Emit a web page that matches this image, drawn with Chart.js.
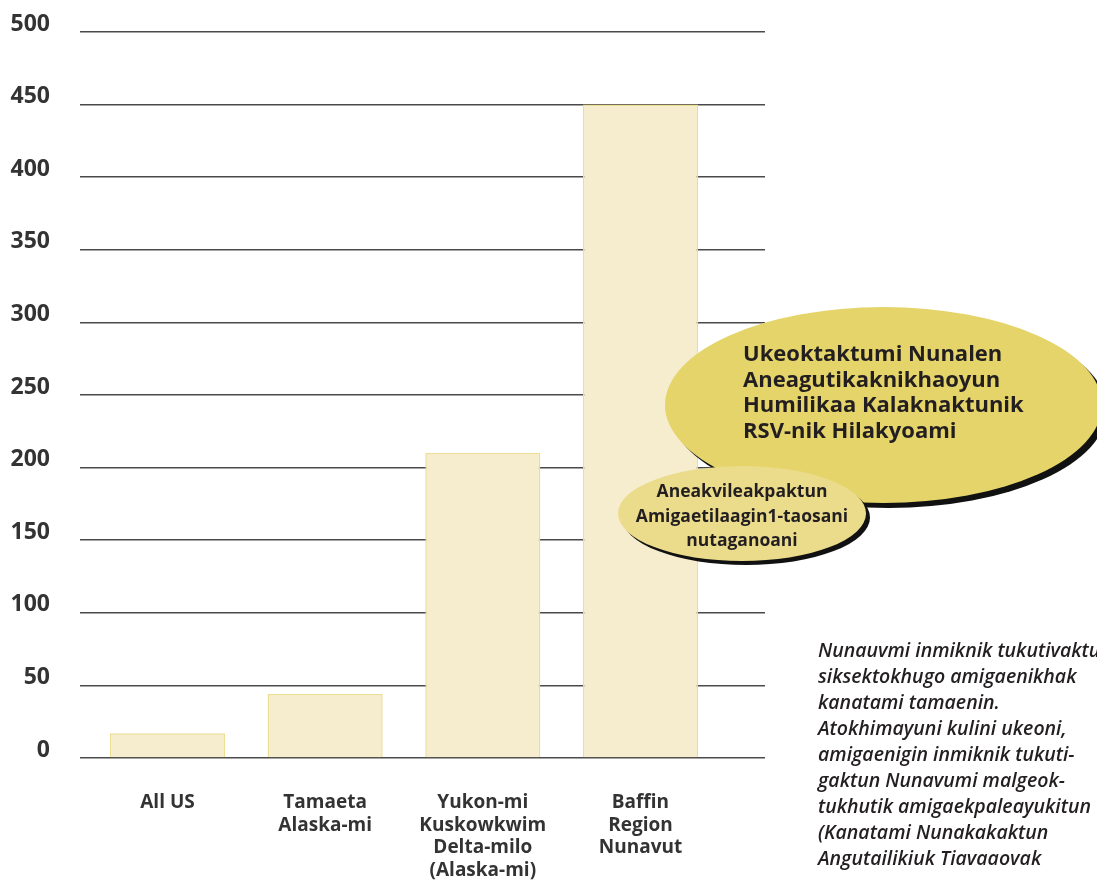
<!DOCTYPE html>
<html lang="en">
<head>
    <meta charset="UTF-8">
    <title>RSV chart</title>
    <script src="https://cdn.jsdelivr.net/npm/chart.js"></script>
    <style>
        body { margin: 0; background: #fff; overflow: hidden; }
        #wrap { position: relative; width: 1097px; height: 880px; overflow: hidden; }
        .blob { position: absolute; border-radius: 50%; color: #231f20; font-family: "Open Sans", sans-serif; font-weight: 700; }
        #big { left: 665px; top: 307px; width: 437px; height: 196px; background: #e5d46a; box-shadow: 5px 5px 0 #111; }
        #big div { position: absolute; left: 78px; top: 33px; font-size: 22px; line-height: 25.5px; white-space: nowrap; }
        #small { left: 618px; top: 466px; width: 248px; height: 95px; background: #ebdc8c; box-shadow: 4px 4px 0 #111; }
        #small div { position: absolute; left: 0; right: 0; top: 12px; text-align: center; font-size: 17.5px; line-height: 24.5px; white-space: nowrap; }
        #note { position: absolute; left: 818px; top: 637px; width: 300px; font-family: "Open Sans", sans-serif; font-style: italic; font-weight: 600; font-size: 19.5px; line-height: 26px; color: #231f20; white-space: nowrap; }
    </style>
</head>
<body>
<div id="wrap">
    <canvas id="chart" width="1097" height="880"></canvas>
    <div class="blob" id="big"><div>Ukeoktaktumi Nunalen<br>Aneagutikaknikhaoyun<br>Humilikaa Kalaknaktunik<br>RSV-nik Hilakyoami</div></div>
    <div class="blob" id="small"><div>Aneakvileakpaktun<br>Amigaetilaagin1-taosani<br>nutaganoani</div></div>
    <div id="note">Nunauvmi inmiknik tukutivaktun<br>siksektokhugo amigaenikhak<br>kanatami tamaenin.<br>Atokhimayuni kulini ukeoni,<br>amigaenigin inmiknik tukuti-<br>gaktun Nunavumi malgeok-<br>tukhutik amigaekpaleayukitun<br>(Kanatami Nunakakaktun<br>Angutailikiuk Tiavaaovak</div>
</div>

<script>
    // data
    const categories = [
        ['All US'],
        ['Tamaeta', 'Alaska-mi'],
        ['Yukon-mi', 'Kuskowkwim', 'Delta-milo', '(Alaska-mi)'],
        ['Baffin', 'Region', 'Nunavut']
    ];
    const values = [17, 44, 210, 450];
    const yTicks = [0, 50, 100, 150, 200, 250, 300, 350, 400, 450, 500];

    const points = values.map((v, i) => ({ x: i, y: v }));
    const textColor = '#333';

    new Chart(document.getElementById('chart'), {
        type: 'bar',
        data: {
            datasets: [{
                data: points,
                backgroundColor: '#f6edcf',
                borderColor: '#ebdd93',
                borderWidth: 1.5,
                barPercentage: 0.73,
                categoryPercentage: 1.0
            }]
        },
        options: {
            responsive: false,
            animation: false,
            layout: { padding: { top: 32, right: 332, left: 0, bottom: 0 } },
            plugins: { legend: { display: false }, tooltip: { enabled: false } },
            scales: {
                x: {
                    type: 'linear',
                    offset: false,
                    min: -0.555,
                    max: 3.79,
                    grid: { display: false },
                    border: { display: false },
                    afterBuildTicks: s => { s.ticks = categories.map((_, i) => ({ value: i })); },
                    afterFit: s => { s.height = 122; s.paddingLeft = 0; s.paddingRight = 0; },
                    ticks: {
                        padding: 25,
                        autoSkip: false,
                        maxRotation: 0,
                        color: textColor,
                        font: { family: 'Open Sans', weight: 'bold', size: 19, lineHeight: 1.2 },
                        callback: v => categories[v]
                    }
                },
                y: {
                    min: 0,
                    max: 500,
                    afterBuildTicks: s => { s.ticks = yTicks.map(v => ({ value: v })); },
                    afterFit: s => { s.width = 80; s.paddingTop = 0; s.paddingBottom = 0; },
                    grid: { color: '#4a4a4a', lineWidth: 1.5, drawTicks: false },
                    border: { display: false },
                    ticks: {
                        padding: 30,
                        labelOffset: -8,
                        color: textColor,
                        font: { family: 'Open Sans', weight: 'bold', size: 23 }
                    }
                }
            }
        }
    });
</script>
</body>
</html>
